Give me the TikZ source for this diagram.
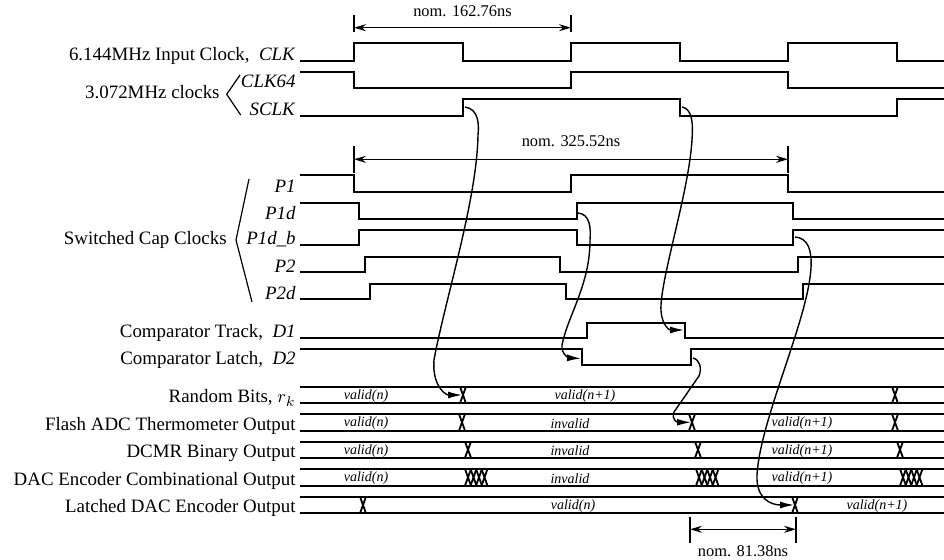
\documentclass[tikz,border=0pt]{standalone}
\usepackage{fontspec}
\setmainfont{Liberation Serif}
\usetikzlibrary{arrows.meta}

\begin{document}
\begin{tikzpicture}[x=0.5pt, y=-0.5pt, %pixel grid of the scanned figure
sig/.style ={line width=1pt},
bus/.style ={line width=0.9pt},
lbl/.style ={anchor=base east, inner sep=0pt, font=\fontsize{9.45}{11}\selectfont},
dat/.style ={inner sep=0pt, font=\fontsize{7}{8}\selectfont\itshape},
dimline/.style ={line width=0.6pt, {Stealth[length=6pt,width=3.5pt,inset=2pt]}-{Stealth[length=6pt,width=3.5pt,inset=2pt]}},
dimtick/.style ={line width=0.8pt},
dimtxt/.style ={inner sep=0pt, font=\fontsize{8.2}{10}\selectfont},
brk/.style ={line width=0.6pt},
cause/.style ={line width=0.7pt, -{Latex[length=7pt,width=3.5pt]}}
]
\useasboundingbox (0,0) rectangle (944,560);
%signal names
\path (296,61) node[lbl] (clk) {6.144MHz Input Clock,\ \ \textit{CLK}}
(296,87.5) node[lbl] (clk64) {\textit{CLK64}}
(296,115.5) node[lbl] (sclk) {\textit{SCLK}}
(220,98.5) node[lbl] (clks) {3.072MHz clocks}
(296,192.5) node[lbl] (p1) {\textit{P1}}
(296,219.5) node[lbl] (p1d) {\textit{P1d}}
(296,245) node[lbl] (p1db) {\textit{P1d\_b}}
(296,272.5) node[lbl] (p2) {\textit{P2}}
(296,300) node[lbl] (p2d) {\textit{P2d}}
(227,245) node[lbl] (sc) {Switched Cap Clocks}
(296,338) node[lbl] (d1) {Comparator Track,\ \ \textit{D1}}
(296,365) node[lbl] (d2) {Comparator Latch,\ \ \textit{D2}}
(296,403) node[lbl] (rb) {Random Bits, $r_k$}
(296,430.5) node[lbl] (adc) {Flash ADC Thermometer Output}
(296,457.5) node[lbl] (dcmr) {DCMR Binary Output}
(296,485.5) node[lbl] (enc) {DAC Encoder Combinational Output}
(296,513) node[lbl] (lat) {Latched DAC Encoder Output};
%brackets
\draw[brk] (240,75) -- (226.7,94.3) -- (240.7,115);
\draw[brk] (249,179) -- (236,240) -- (252,302);
%clocks
\draw[sig] (300,61) -| (354,43.5) -| (462.5,61) -| (571,43.5) -| (679.5,61) -| (788,43.5) -| (896.5,61) -- (944,61);
\draw[sig] (300,71.7) -| (354,87.7) -| (571,71.7) -| (788,87.7) -- (944,87.7);
\draw[sig] (300,115.7) -| (462.5,99.3) -| (679.5,115.7) -| (896.5,99.3) -- (944,99.3);
%switched cap clocks
\draw[sig] (300,175) -| (354,192) -| (571,175) -| (788,192) -- (944,192);
\draw[sig] (300,202.7) -| (359.3,219) -| (576.7,202.7) -| (792.7,219) -- (944,219);
\draw[sig] (300,245) -| (359.3,230) -| (576.7,245) -| (792.7,230) -- (944,230);
\draw[sig] (300,272.3) -| (365,257.3) -| (560,272.3) -| (798.3,257.3) -- (944,257.3);
\draw[sig] (300,299.3) -| (370,284) -| (565.7,299.3) -| (803.3,284) -- (944,284);
%comparator
\draw[sig] (300,337.7) -| (586.7,322.7) -| (685,337.7) -- (944,337.7);
\draw[sig] (300,349) -| (581.7,365) -| (690.7,349) -- (944,349);
%buses
\foreach \t/\b in {386.7/403.3, 414/430.7, 441.7/457.7, 469/485.7, 496.7/513.3}
  \draw[bus] (300,\t) -- (944,\t) (300,\b) -- (944,\b);
\foreach \x/\t/\b in {463/386.7/403.3, 895/386.7/403.3, 462/414/430.7, 692/414/430.7, 895/414/430.7,
  468/441.7/457.7, 698/441.7/457.7, 900/441.7/457.7, 363/496.7/513.3, 795/496.7/513.3}
  \draw[bus] (\x-3,\t) -- (\x+3,\b) (\x+3,\t) -- (\x-3,\b);
\foreach \x in {468,699,903}
  \foreach \k in {0,...,3}
    \draw[bus] ({\x+5.5*\k-3},469) -- ({\x+5.5*\k+3},485.7) ({\x+5.5*\k+3},469) -- ({\x+5.5*\k-3},485.7);
%bus contents
\path (366,396) node[dat] (rbn) {valid(n)}
(585,396) node[dat] (rbn1) {valid(n+1)}
(366,423.3) node[dat] (adcn) {valid(n)}
(570,423.3) node[dat] (adcx) {invalid}
(802,423.3) node[dat] (adcn1) {valid(n+1)}
(366,450.7) node[dat] (dcmrn) {valid(n)}
(570,450.7) node[dat] (dcmrx) {invalid}
(802,450.7) node[dat] (dcmrn1) {valid(n+1)}
(366,478.3) node[dat] (encn) {valid(n)}
(570,478.3) node[dat] (encx) {invalid}
(802,478.3) node[dat] (encn1) {valid(n+1)}
(573,506) node[dat] (latn) {valid(n)}
(877,506) node[dat] (latn1) {valid(n+1)};
%dimensions
\draw[dimtick] (354,15) -- (354,32) (571,15) -- (571,32);
\draw[dimline] (354,27.7) -- node[dimtxt, above=5pt] (t1) {nom. 162.76ns} (571,27.7);
\draw[dimtick] (354,146) -- (354,173) (788,146) -- (788,173);
\draw[dimline] (354,159.3) -- node[dimtxt, above=6pt] (t2) {nom. 325.52ns} (788,159.3);
\draw[dimtick] (690,516.7) -- (690,543.3) (796,516.7) -- (796,543.3);
\draw[dimline] (690,529.3) -- node[dimtxt, below=8pt] (t3) {nom. 81.38ns} (796,529.3);
%cause and effect
\coordinate (sclkup) at (465,107);
\coordinate (sclkdn) at (682,107);
\coordinate (p1dup) at (578,213);
\coordinate (p1dbup) at (795,237);
\coordinate (d2up) at (693,358);
\coordinate (rbx) at (462,395);
\coordinate (d1dn) at (684,330);
\coordinate (d2dn) at (581,358.5);
\coordinate (adcxx) at (691,422.3);
\coordinate (latx) at (794,505);
\draw[cause] (sclkup) .. controls (479,109) and (479,125) .. (478,135) .. controls (477,200) and (445,300) .. (434,360) .. controls (432,385) and (445,395) .. (rbx);
\draw[cause] (p1dup) .. controls (590,214) and (591,228) .. (590,240) .. controls (590,285) and (568,315) .. (562,345) .. controls (561,355) and (570,358) .. (d2dn);
\draw[cause] (sclkdn) .. controls (693,109) and (693,125) .. (692,140) .. controls (689,190) and (663,270) .. (661,305) .. controls (660,322) and (668,330) .. (d1dn);
\draw[cause] (p1dbup) .. controls (808,238) and (812,250) .. (811,268) .. controls (808,320) and (760,420) .. (757,475) .. controls (756,498) and (770,505) .. (latx);
\draw[cause] (d2up) .. controls (700,360) and (702,368) .. (699,376) -- (674,412) .. controls (671,419) and (677,422.3) .. (adcxx);
\end{tikzpicture}
\end{document}
